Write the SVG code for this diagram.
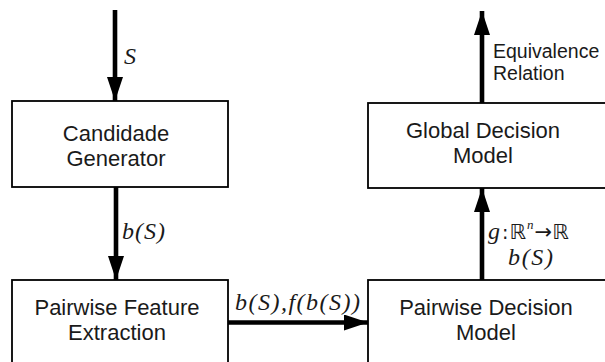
<svg xmlns="http://www.w3.org/2000/svg" width="605" height="362" viewBox="0 0 605 362">
  <defs>
    <marker id="head" viewBox="0 0 24 16" refX="24" refY="8" markerWidth="24" markerHeight="16" markerUnits="userSpaceOnUse" orient="auto">
      <path d="M0,0 L24,8 L0,16 Z" fill="#000"/>
    </marker>
    <style>
      .box { fill: #fff; stroke: #000; stroke-width: 1.8; }
      .lbl { font-family: "Liberation Sans", Arial, sans-serif; font-size: 22px; fill: #1a1a1a; text-anchor: middle; }
      .note { font-family: "Liberation Sans", Arial, sans-serif; font-size: 19.5px; fill: #1a1a1a; }
      .math { font-family: "Liberation Serif", "Times New Roman", serif; font-style: italic; font-size: 24px; fill: #1a1a1a; }
      .bb { font-family: "DejaVu Sans", sans-serif; font-style: normal; }
      .edge { stroke: #000; stroke-width: 4.6; fill: none; marker-end: url(#head); }
    </style>
  </defs>

  <g id="candidate-generator">
    <rect class="box" x="12" y="101" width="216" height="86"/>
    <text class="lbl" x="116" y="141">Candidade</text>
    <text class="lbl" x="116" y="166">Generator</text>
  </g>

  <g id="feature-extraction">
    <rect class="box" x="12" y="280" width="216" height="100"/>
    <text class="lbl" x="117" y="315">Pairwise Feature</text>
    <text class="lbl" x="117" y="340">Extraction</text>
  </g>

  <g id="global-decision">
    <rect class="box" x="368" y="103" width="250" height="85"/>
    <text class="lbl" x="483" y="138">Global Decision</text>
    <text class="lbl" x="483" y="163">Model</text>
  </g>

  <g id="pairwise-decision">
    <rect class="box" x="368" y="280" width="250" height="100"/>
    <text class="lbl" x="486" y="315">Pairwise Decision</text>
    <text class="lbl" x="486" y="340">Model</text>
  </g>

  <g id="connectors">
    <line class="edge" x1="115" y1="10" x2="115" y2="101"/>
    <line class="edge" x1="116" y1="187" x2="116" y2="280"/>
    <line class="edge" x1="228" y1="322.5" x2="368" y2="322.5"/>
    <line class="edge" x1="482" y1="280" x2="482" y2="188"/>
    <line class="edge" x1="482" y1="103" x2="482" y2="11"/>

    <text class="math" x="124" y="64" font-size="26">S</text>
    <text class="math" x="122" y="239" textLength="43" lengthAdjust="spacing">b(S)</text>
    <text class="math" x="235" y="310" textLength="125" lengthAdjust="spacing">b(S),f(b(S))</text>
    <text class="math" x="488" y="239">g<tspan class="bb" font-size="19" dx="2">:</tspan><tspan class="bb" font-size="21" dx="1">ℝ</tspan><tspan font-size="13" dy="-10" dx="1">n</tspan><tspan class="bb" font-size="21" dy="10" dx="1">→</tspan><tspan class="bb" font-size="21">ℝ</tspan></text>
    <text class="math" x="508" y="265" textLength="45" lengthAdjust="spacing">b(S)</text>
    <text class="note" x="493" y="58">Equivalence</text>
    <text class="note" x="493" y="80">Relation</text>
  </g>
</svg>
